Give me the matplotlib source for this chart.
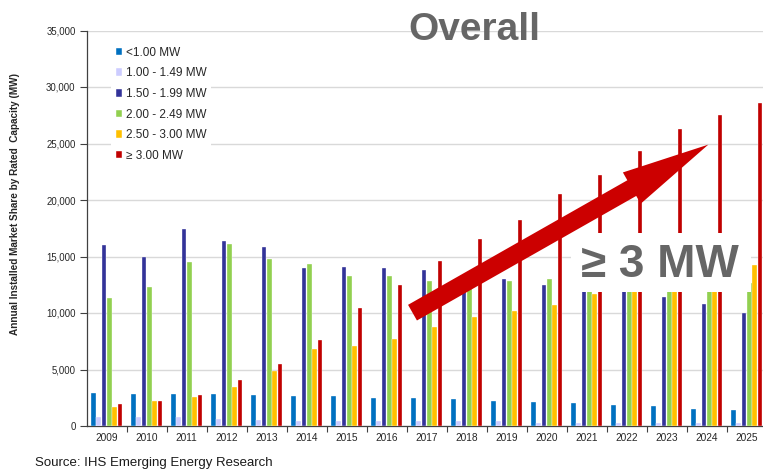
import numpy as np
import matplotlib
matplotlib.use("Agg")
import matplotlib.pyplot as plt
from matplotlib.patches import Patch, Rectangle, FancyArrow
from matplotlib.transforms import IdentityTransform
from matplotlib.ticker import FuncFormatter, MultipleLocator, FixedLocator

plt.rcParams["font.family"] = ["Liberation Sans", "DejaVu Sans"]

years = [str(y) for y in range(2009, 2026)]

series_names = [
    "<1.00 MW",
    "1.00 - 1.49 MW",
    "1.50 - 1.99 MW",
    "2.00 - 2.49 MW",
    "2.50 - 3.00 MW",
    "\u2265 3.00 MW",
]

# annual installed capacity (MW) per rating class
below_1mw = [2900, 2860, 2860, 2860, 2770, 2650, 2650, 2500, 2450, 2360,
             2240, 2150, 2000, 1860, 1740, 1530, 1390]
mw_100_149 = [800, 800, 800, 650, 500, 440, 440, 440, 440, 440,
              440, 300, 300, 300, 300, 300, 300]
mw_150_199 = [16000, 14970, 17420, 16350, 15800, 13940, 14030, 13940, 13800, 13000,
              13050, 12460, 12300, 12100, 11430, 10760, 9960]
mw_200_249 = [11340, 12260, 14500, 16090, 14760, 14320, 13260, 13260, 12850, 12400,
              12850, 13020, 12500, 12300, 12300, 12400, 12670]
mw_250_300 = [1680, 2240, 2560, 3470, 4890, 6800, 7100, 7720, 8780, 9640,
              10170, 10700, 11650, 12500, 12700, 13000, 14230]
mw_300_up = [1950, 2180, 2710, 4070, 5510, 7600, 10400, 12460, 14590, 16590,
             18210, 20570, 22220, 24310, 26250, 27520, 28580]

all_series = [below_1mw, mw_100_149, mw_150_199, mw_200_249, mw_250_300, mw_300_up]
colors = ["#0070C0", "#CCCCFF", "#333399", "#92D050", "#FFC000", "#C00000"]

W, H = 763, 471
fig = plt.figure(figsize=(W / 100, H / 100), dpi=100)
ax = fig.add_axes([86.7 / W, 45 / H, 680 / W, 395.5 / H])

x = np.arange(len(years))
pitch = 0.1325
for k, (vals, c) in enumerate(zip(all_series, colors)):
    ax.bar(x + (k - 2.5) * pitch, vals, width=0.115, color=c,
           edgecolor="white", linewidth=0.25, zorder=3)

ax.set_xlim(-0.5, 16.5)
ax.set_ylim(0, 35000)
ax.yaxis.set_major_locator(MultipleLocator(5000))
ax.yaxis.set_major_formatter(FuncFormatter(lambda v, p: f"{int(v):,}"))
ax.grid(axis="y", color="#d9d9d9", linewidth=1, zorder=0)
ax.set_axisbelow(True)

ax.set_xticks(x)
ax.set_xticklabels(years)
ax.xaxis.set_minor_locator(FixedLocator(x[:-1] + 0.5))
ax.tick_params(axis="x", which="major", length=0, pad=5, labelsize=7.3, labelcolor="#262626")
ax.tick_params(axis="x", which="minor", length=4, width=0.8, color="#404040")
ax.tick_params(axis="y", length=5, width=0.8, color="#404040", pad=3,
               labelsize=6.9, labelcolor="#262626")

for s in ["top", "right"]:
    ax.spines[s].set_visible(False)
for s in ["left", "bottom"]:
    ax.spines[s].set_color("#404040")
    ax.spines[s].set_linewidth(0.9)

# legend in the upper left corner
handles = [Patch(facecolor=c, edgecolor="white", linewidth=0.3) for c in colors]
leg = ax.legend(handles, series_names, loc="upper left",
                bbox_to_anchor=(111 / W, 1 - 42 / H), bbox_transform=fig.transFigure,
                fontsize=8.5, handlelength=0.55, handleheight=0.6, handletextpad=0.3,
                labelspacing=0.73, borderpad=0.4, borderaxespad=0,
                frameon=True, fancybox=False, framealpha=1)
leg.get_frame().set_facecolor("white")
leg.get_frame().set_edgecolor("none")
for t in leg.get_texts():
    t.set_color("#262626")
leg.set_zorder(6)

# callout box for the largest class
ax.add_patch(Rectangle((11.6, 11900), 4.5, 5200, facecolor="white",
                       edgecolor="none", zorder=5))
ax.text(13.83, 14250, "\u2265 3 MW", ha="center", va="center", fontsize=33,
        fontweight="bold", color="#666666", zorder=6)

# trend arrow, sized in pixels
tail = ax.transData.transform((7.645, 10030))
tip = ax.transData.transform((15.04, 24900))
arrow = FancyArrow(tail[0], tail[1], tip[0] - tail[0], tip[1] - tail[1],
                   width=18, head_width=36, head_length=88,
                   length_includes_head=True, color="#CC0000", linewidth=0,
                   transform=IdentityTransform(), zorder=7)
fig.add_artist(arrow)

fig.text(474 / W, 1 - 40 / H, "Overall", ha="center", va="baseline",
         fontsize=28, fontweight="bold", color="#666666")
fig.text(15 / W, 1 - 204 / H, "Annual Installed Market Share by Rated  Capacity (MW)",
         rotation=90, ha="center", va="center", fontsize=7.2, fontweight="bold",
         color="#262626")
fig.text(35 / W, 1 - 463 / H, "Source: IHS Emerging Energy Research",
         ha="left", va="center", fontsize=9.5, color="#1a1a1a")

fig.savefig("out.png", dpi=100)
